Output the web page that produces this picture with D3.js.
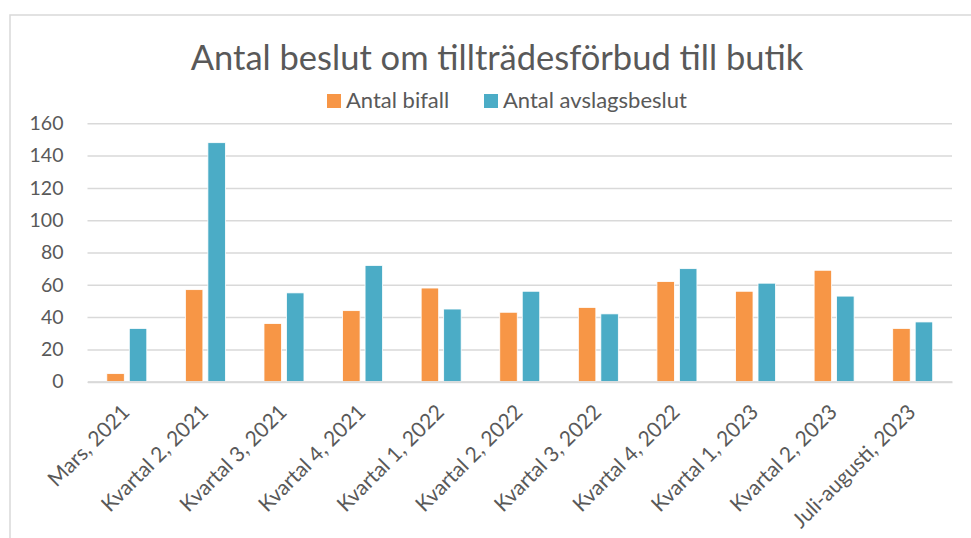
<!DOCTYPE html>
<html>
<head>
<meta charset="utf-8">
<script src="https://cdn.jsdelivr.net/npm/d3@7"></script>
<style>
  body { margin: 0; background: #fff; overflow: hidden; }
  svg { display: block; }
  svg text { font-family: Lato, "Open Sans", sans-serif; fill: #595959; }
</style>
</head>
<body>
<svg class="mysvg"></svg>
<script>
// chart data
const categories = [
  "Mars, 2021", "Kvartal 2, 2021", "Kvartal 3, 2021", "Kvartal 4, 2021",
  "Kvartal 1, 2022", "Kvartal 2, 2022", "Kvartal 3, 2022", "Kvartal 4, 2022",
  "Kvartal 1, 2023", "Kvartal 2, 2023", "Juli-augusti, 2023"
];
const bifall = [5, 57, 36, 44, 58, 43, 46, 62, 56, 69, 33];
const avslag = [33, 148, 55, 72, 45, 56, 42, 70, 61, 53, 37];
const seriesNames = ["Antal bifall", "Antal avslagsbeslut"];
const yTicks = [0, 20, 40, 60, 80, 100, 120, 140, 160];

const colors = ["#F79646", "#4BACC6"];

const width = 971, height = 538;
const margin = { top: 123.3, right: 19, bottom: 156.3, left: 87.5 };
const innerWidth = width - margin.left - margin.right;
const innerHeight = height - margin.top - margin.bottom;

const svg = d3.select(".mysvg").attr("width", width).attr("height", height);

// chart border
svg.append("rect")
  .attr("x", 10).attr("y", 15)
  .attr("width", 980).attr("height", 540)
  .attr("fill", "none")
  .attr("stroke", "#d9d9d9")
  .attr("stroke-width", 1.5);

// title
svg.append("text")
  .attr("x", 497).attr("y", 70)
  .attr("text-anchor", "middle")
  .style("font-size", "34.5px")
  .text("Antal beslut om tillträdesförbud till butik");

const g = svg.append("g")
  .attr("transform", `translate(${margin.left},${margin.top})`);

const x0 = d3.scaleBand().domain(categories).range([0, innerWidth]).padding(0);
const x1 = d3.scaleBand().domain(seriesNames).range([0, x0.bandwidth()])
  .paddingInner(0.222).paddingOuter(0.858);
const y = d3.scaleLinear().domain([0, 160]).range([innerHeight, 0]);

// gridlines + y labels
const yAxis = g.append("g")
  .call(d3.axisLeft(y).tickValues(yTicks).tickSize(-innerWidth).tickPadding(24));
yAxis.select(".domain").remove();
yAxis.selectAll(".tick line").attr("stroke", "#d9d9d9").attr("stroke-width", 1.5);
yAxis.selectAll(".tick text").style("font-size", "19.5px").attr("fill", "#595959");

// bars
const rows = categories.map((c, i) => ({ cat: c, values: [bifall[i], avslag[i]] }));
const groups = g.selectAll(".grp")
  .data(rows)
  .enter()
  .append("g")
  .attr("transform", (d) => `translate(${x0(d.cat)},0)`);

groups.selectAll("rect")
  .data((d) => d.values.map((v, k) => ({ name: seriesNames[k], v: v, k: k })))
  .enter()
  .append("rect")
  .attr("x", (d) => x1(d.name))
  .attr("y", (d) => y(d.v))
  .attr("width", x1.bandwidth())
  .attr("height", (d) => y(0) - y(d.v))
  .attr("fill", (d) => colors[d.k])
  .attr("stroke", "#fff")
  .attr("stroke-width", 0.8);

// x axis
const xAxis = g.append("g")
  .attr("transform", `translate(0,${innerHeight})`)
  .call(d3.axisBottom(x0).tickSize(0));
xAxis.select(".domain").attr("stroke", "#d9d9d9").attr("stroke-width", 2);
xAxis.selectAll(".tick text")
  .style("font-size", "21px")
  .attr("fill", "#595959")
  .attr("text-anchor", "end")
  .attr("dy", "0.72em")
  .attr("transform", "translate(-6.5,21) rotate(-45)")
  .attr("y", 0).attr("x", 0);

// legend
const legend = svg.append("g");
const legendX = [327, 484];
legend.selectAll("rect")
  .data(seriesNames)
  .enter()
  .append("rect")
  .attr("x", (d, i) => legendX[i])
  .attr("y", 94)
  .attr("width", 14)
  .attr("height", 14)
  .attr("fill", (d, i) => colors[i]);
legend.selectAll("text")
  .data(seriesNames)
  .enter()
  .append("text")
  .attr("x", (d, i) => legendX[i] + 19)
  .attr("y", 108)
  .style("font-size", "22px")
  .text((d) => d);
</script>
</body>
</html>
